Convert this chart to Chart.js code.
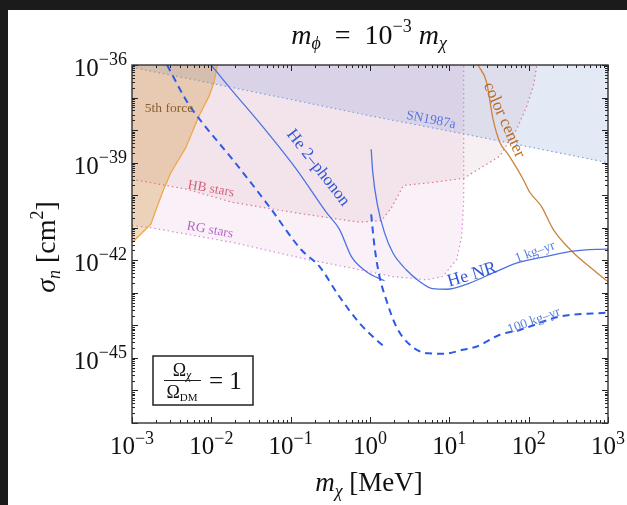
<!DOCTYPE html>
<html>
<head>
<meta charset="utf-8">
<script src="https://cdn.jsdelivr.net/npm/chart.js@4.4.1/dist/chart.umd.min.js"></script>
<style>
html, body { margin: 0; padding: 0; width: 627px; height: 505px; overflow: hidden; background: #1b1b1b; }
#panel { position: absolute; left: 8px; top: 10px; width: 619px; height: 495px; background: #fff; }
</style>
</head>
<body>
<div id="panel"><canvas id="chart" width="619" height="495"></canvas></div>
<script>
// axis ticks (exponents of ten)
const xTickExps = [-3, -2, -1, 0, 1, 2, 3];
const yTickExps = [-36, -39, -42, -45];

// curves as log10(m / MeV) and log10(sigma / cm^2)
const fifthForceM = [-3.0, -2.764, -2.617, -2.511, -2.322, -2.154, -2.027, -1.966, -1.923];
const fifthForceS = [-41.46, -40.90, -39.92, -39.31, -38.54, -37.56, -36.95, -36.53, -36.0];

const sn1987aM = [-3, -1.5, 0, 1.5, 3];
const sn1987aS = [-36.07, -36.81, -37.56, -38.27, -39.0];

const hbM = [-3.0, -2.305, -1.737, -0.891, -0.133, 0.145, 0.271, 0.423, 0.751, 1.181, 1.471, 1.636, 1.850, 1.977, 2.065, 2.103];
const hbS = [-39.51, -39.82, -40.22, -40.56, -40.83, -40.78, -40.38, -39.70, -39.62, -39.48, -39.05, -38.80, -37.97, -37.26, -36.59, -36.0];

const rgM = [-3.0, -2.785, -1.737, -0.891, -0.133, 0.284, 0.714, 0.916, 1.092, 1.156, 1.181, 1.181];
const rgS = [-40.93, -40.99, -41.45, -41.92, -42.29, -42.50, -42.60, -42.50, -41.98, -41.27, -40.13, -36.0];

const colorCenterM = [1.361, 1.468, 1.551, 1.636, 1.740, 1.930, 2.014, 2.162, 2.309, 2.561, 2.814, 3.0];
const colorCenterS = [-36.0, -36.52, -37.66, -38.37, -38.74, -39.51, -39.91, -40.35, -41.05, -41.76, -42.29, -42.66];

const phonon1M = [-2.002, -1.775, -1.358, -0.929, -0.550, -0.385, -0.234, -0.045, 0.183];
const phonon1S = [-36.0, -36.68, -37.88, -39.20, -40.53, -41.05, -41.89, -42.35, -42.63];

const phonon100M = [-2.558, -2.301, -2.132, -1.733, -1.270, -0.869, -0.638, -0.385, -0.133, 0.078, 0.204];
const phonon100S = [-36.0, -37.15, -37.72, -38.90, -40.35, -41.67, -42.19, -43.12, -43.93, -44.44, -44.70];

const nr1M = [0.015, 0.035, 0.098, 0.183, 0.288, 0.457, 0.625, 0.789, 0.966, 1.257, 1.551, 1.847, 2.225, 2.562, 3.0];
const nr1S = [-38.59, -39.30, -40.35, -41.15, -41.77, -42.29, -42.65, -42.87, -42.89, -42.70, -42.39, -42.09, -41.88, -41.72, -41.65];

const nr100M = [0.015, 0.057, 0.120, 0.204, 0.331, 0.499, 0.726, 0.941, 1.168, 1.345, 1.636, 1.888, 2.393, 3.0];
const nr100S = [-40.59, -41.58, -42.50, -43.21, -44.04, -44.59, -44.86, -44.87, -44.75, -44.65, -44.29, -44.14, -43.73, -43.61];

const toPts = (ms, ss) => ms.map((m, i) => ({ x: Math.pow(10, m), y: Math.pow(10, ss[i]) }));

const SERIF = '"Liberation Serif", "Times New Roman", serif';
const MINUS = '\u2212';

// text labels placed in data space: [text, log m, log sigma, angle, size, color]
const curveLabels = [
  ['5th force', -2.534, -37.32, 0, 13.5, '#8a6030'],
  ['SN1987a', 0.769, -37.69, 11, 13.5, '#5577dd'],
  ['HB stars', -2.004, -39.81, 10, 13.5, '#d5607a'],
  ['RG stars', -2.017, -41.07, 10, 13.5, '#b865c8'],
  ['He 2\u2013phonon', -0.655, -39.16, 52, 17, '#2f55d8'],
  ['He NR', 1.286, -42.45, -17, 18, '#2f55d8'],
  ['1 kg\u2013yr', 2.080, -41.75, -20, 13.5, '#5a7fe0'],
  ['100 kg\u2013yr', 2.067, -43.86, -20, 13.5, '#5a7fe0'],
  ['color center', 1.689, -37.69, 66, 17, '#b86a20']
];

function rich(ctx, parts, x, y, align) {
  let w = 0;
  parts.forEach(p => {
    ctx.font = (p[2] || '') + ' ' + p[1] + 'px ' + SERIF;
    p.w = ctx.measureText(p[0]).width;
    w += p.w;
  });
  let cx = align === 'right' ? x - w : align === 'center' ? x - w / 2 : x;
  parts.forEach(p => {
    ctx.font = (p[2] || '') + ' ' + p[1] + 'px ' + SERIF;
    ctx.fillText(p[0], cx, y + (p[3] || 0));
    cx += p.w;
  });
}

function expStr(e) { return e < 0 ? MINUS + Math.abs(e) : String(e); }

const decor = {
  id: 'decor',
  afterDatasetsDraw(chart) {
    const ctx = chart.ctx, a = chart.chartArea;
    const xs = chart.scales.x, ys = chart.scales.y;
    ctx.save();
    ctx.strokeStyle = '#222';
    ctx.lineWidth = 1;
    // ticks on all four sides, pointing in
    ctx.beginPath();
    for (let n = -3; n <= 3; n++) {
      for (let k = 1; k <= 9; k++) {
        if (n === 3 && k > 1) break;
        const px = Math.round(xs.getPixelForValue(k * Math.pow(10, n))) + 0.5;
        const len = k === 1 ? 6 : 3;
        ctx.moveTo(px, a.bottom); ctx.lineTo(px, a.bottom - len);
        ctx.moveTo(px, a.top); ctx.lineTo(px, a.top + len);
      }
    }
    for (let n = -47; n <= -36; n++) {
      for (let k = 1; k <= 9; k++) {
        if (n === -36 && k > 1) break;
        const py = Math.round(ys.getPixelForValue(k * Math.pow(10, n))) + 0.5;
        const len = k === 1 ? 6 : 3;
        ctx.moveTo(a.left, py); ctx.lineTo(a.left + len, py);
        ctx.moveTo(a.right, py); ctx.lineTo(a.right - len, py);
      }
    }
    ctx.stroke();
    ctx.lineWidth = 1.4;
    ctx.strokeStyle = '#333';
    ctx.strokeRect(a.left, a.top, a.right - a.left, a.bottom - a.top);
    ctx.restore();
  },
  afterDraw(chart) {
    const ctx = chart.ctx, a = chart.chartArea;
    const xs = chart.scales.x, ys = chart.scales.y;
    ctx.save();
    ctx.fillStyle = '#111';
    ctx.textBaseline = 'alphabetic';
    // tick labels
    xTickExps.forEach(e => {
      const px = xs.getPixelForValue(Math.pow(10, e));
      rich(ctx, [['10', 25], [expStr(e), 18, '', -10]], px, a.bottom + 31, 'center');
    });
    yTickExps.forEach(e => {
      const py = ys.getPixelForValue(Math.pow(10, e));
      rich(ctx, [['10', 25], [expStr(e), 18, '', -11]], a.left - 5, py + 11, 'right');
    });
    // title and axis titles
    rich(ctx, [['m', 28, 'italic'], ['\u03D5', 18, 'italic', 5], ['  =  10', 28], [MINUS + '3', 18, '', -12],
      [' m', 28, 'italic'], ['\u03C7', 18, 'italic', 5]], 361, 34, 'center');
    rich(ctx, [['m', 27, 'italic'], ['\u03C7', 18, 'italic', 6], [' [MeV]', 27]], 361, 481, 'center');
    ctx.save();
    ctx.translate(47, 237);
    ctx.rotate(-Math.PI / 2);
    rich(ctx, [['\u03C3', 28, 'italic'], ['n', 18, 'italic', 5], [' [cm', 28], ['2', 18, '', -12], [']', 28]], 0, 0, 'center');
    ctx.restore();
    // curve labels
    ctx.textAlign = 'center';
    ctx.textBaseline = 'middle';
    curveLabels.forEach(l => {
      ctx.save();
      ctx.translate(xs.getPixelForValue(Math.pow(10, l[1])), ys.getPixelForValue(Math.pow(10, l[2])));
      ctx.rotate(l[3] * Math.PI / 180);
      ctx.font = l[4] + 'px ' + SERIF;
      ctx.fillStyle = l[5];
      ctx.fillText(l[0], 0, 0);
      ctx.restore();
    });
    // relic density box
    ctx.textAlign = 'left';
    ctx.textBaseline = 'alphabetic';
    const bx = a.left + 21, by = a.bottom - 67;
    ctx.fillStyle = '#fff';
    ctx.fillRect(bx, by, 100, 49);
    ctx.strokeStyle = '#222';
    ctx.lineWidth = 1.5;
    ctx.strokeRect(bx, by, 100, 49);
    ctx.fillStyle = '#111';
    rich(ctx, [['\u03A9', 18], ['\u03C7', 12, 'italic', 3]], bx + 29, by + 20, 'center');
    ctx.lineWidth = 1;
    ctx.beginPath();
    ctx.moveTo(bx + 11, by + 24.5); ctx.lineTo(bx + 48, by + 24.5);
    ctx.stroke();
    rich(ctx, [['\u03A9', 18], ['DM', 11, '', 3]], bx + 29, by + 42, 'center');
    rich(ctx, [['= 1', 25]], bx + 56, by + 33, 'left');
    ctx.restore();
  }
};

const bound = (label, ms, ss, color, bg) => ({
  label, data: toPts(ms, ss), borderColor: color, borderWidth: 1.2,
  borderDash: [1.5, 3], fill: 'end', backgroundColor: bg, tension: 0
});

new Chart(document.getElementById('chart'), {
  type: 'line',
  data: {
    datasets: [
      { label: 'He NR 1 kg-yr', data: toPts(nr1M, nr1S), borderColor: '#4d72e4', borderWidth: 1.3, cubicInterpolationMode: 'monotone', fill: false },
      { label: 'He NR 100 kg-yr', data: toPts(nr100M, nr100S), borderColor: '#2c5ae6', borderWidth: 2, borderDash: [7, 5], cubicInterpolationMode: 'monotone', fill: false },
      { label: 'He 2-phonon 1 kg-yr', data: toPts(phonon1M, phonon1S), borderColor: '#4d72e4', borderWidth: 1.3, cubicInterpolationMode: 'monotone', fill: false },
      { label: 'He 2-phonon 100 kg-yr', data: toPts(phonon100M, phonon100S), borderColor: '#2c5ae6', borderWidth: 2, borderDash: [7, 5], cubicInterpolationMode: 'monotone', fill: false },
      { label: 'color center', data: toPts(colorCenterM, colorCenterS), borderColor: '#c8843f', borderWidth: 1.3, cubicInterpolationMode: 'monotone', fill: false },
      { label: '5th force', data: toPts(fifthForceM, fifthForceS), borderColor: '#eda84c', borderWidth: 1.3, fill: 'end', backgroundColor: 'rgba(205,140,40,0.3)', tension: 0 },
      bound('SN1987a', sn1987aM, sn1987aS, '#7f9fe8', 'rgba(120,145,210,0.2)'),
      bound('HB stars', hbM, hbS, '#e0788a', 'rgba(200,150,160,0.14)'),
      bound('RG stars', rgM, rgS, '#d58ad5', 'rgba(205,115,185,0.1)')
    ]
  },
  options: {
    responsive: false,
    animation: false,
    devicePixelRatio: 1,
    layout: { padding: { left: 124, right: 19, top: 55, bottom: 82 } },
    elements: { point: { radius: 0 } },
    plugins: { legend: { display: false }, tooltip: { enabled: false } },
    scales: {
      x: {
        type: 'logarithmic', min: 1e-3, max: 1e3,
        ticks: { display: false }, grid: { display: false }, border: { display: false },
        afterFit(s) { s.height = 0; }
      },
      y: {
        type: 'logarithmic', min: 1e-47, max: 1e-36,
        ticks: { display: false }, grid: { display: false }, border: { display: false },
        afterFit(s) { s.width = 0; }
      }
    }
  },
  plugins: [decor]
});
</script>
</body>
</html>
